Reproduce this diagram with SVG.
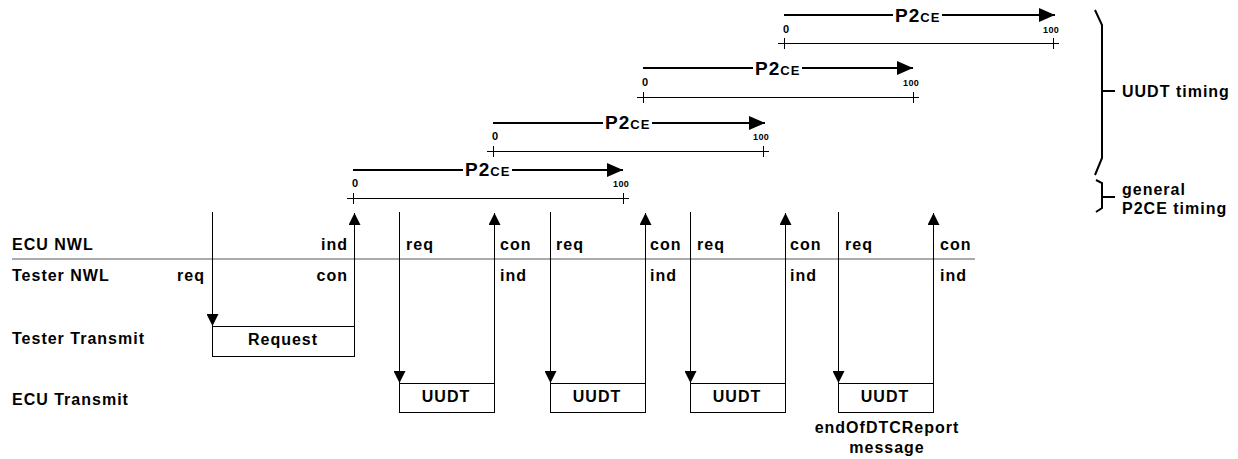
<svg xmlns="http://www.w3.org/2000/svg" width="1238" height="459" viewBox="0 0 1238 459">
  <style>
    text { font-family: "Liberation Sans", Arial, sans-serif; font-weight: bold; fill: #000; }
    .lbl { font-size: 16px; letter-spacing: 1px; }
    .p2 { font-size: 19px; letter-spacing: 1px; }
    .ce { font-size: 13px; letter-spacing: 1px; }
    .zero { font-size: 11px; }
    .hundred { font-size: 9px; letter-spacing: 0.3px; }
    .box { fill: #fff; stroke: #000; stroke-width: 1; }
    .sig { stroke: #000; stroke-width: 1; fill: none; }
    .timeline { stroke: #000; stroke-width: 2; fill: none; }
    .scale { stroke: #000; stroke-width: 1; fill: none; }
    .brace { stroke: #000; stroke-width: 2; fill: none; }
    .sep { stroke: #aaa; stroke-width: 2; }
  </style>
  <defs>
    <marker id="head" viewBox="0 0 12 12" refX="12" refY="6" markerWidth="12" markerHeight="12" markerUnits="userSpaceOnUse" orient="auto">
      <path d="M0,0 L12,6 L0,12 Z" fill="#000"/>
    </marker>
    <marker id="bighead" viewBox="0 0 16 14" refX="16" refY="7" markerWidth="16" markerHeight="14" markerUnits="userSpaceOnUse" orient="auto">
      <path d="M0,0 L16,7 L0,14 Z" fill="#000"/>
    </marker>
  </defs>

  <!-- lane labels -->
  <g id="lanes">
    <text class="lbl" x="12" y="250">ECU NWL</text>
    <text class="lbl" x="12" y="281">Tester NWL</text>
    <text class="lbl" x="12" y="344">Tester Transmit</text>
    <text class="lbl" x="12" y="405">ECU Transmit</text>
    <line class="sep" x1="12" y1="259" x2="975" y2="259"/>
  </g>

  <!-- P2CE timelines -->
  <g id="p2ce-1">
    <text x="465" y="176"><tspan class="p2">P2</tspan><tspan class="ce">CE</tspan></text>
    <text class="zero" x="355" y="187" text-anchor="middle">0</text>
    <text class="hundred" x="629" y="187" text-anchor="end">100</text>
    <path class="scale" d="M347,198.5 H629 M353.5,193 V204 M623.5,193 V204"/>
  </g>
  <g id="p2ce-2">
    <text x="605" y="129"><tspan class="p2">P2</tspan><tspan class="ce">CE</tspan></text>
    <text class="zero" x="495" y="140" text-anchor="middle">0</text>
    <text class="hundred" x="769" y="140" text-anchor="end">100</text>
    <path class="scale" d="M487,151.5 H769 M493.5,146 V157 M763.5,146 V157"/>
  </g>
  <g id="p2ce-3">
    <text x="755" y="75"><tspan class="p2">P2</tspan><tspan class="ce">CE</tspan></text>
    <text class="zero" x="645" y="86" text-anchor="middle">0</text>
    <text class="hundred" x="919" y="86" text-anchor="end">100</text>
    <path class="scale" d="M637,97.5 H919 M643.5,92 V103 M913.5,92 V103"/>
  </g>
  <g id="p2ce-4">
    <text x="895" y="22"><tspan class="p2">P2</tspan><tspan class="ce">CE</tspan></text>
    <text class="zero" x="786" y="33" text-anchor="middle">0</text>
    <text class="hundred" x="1059" y="33" text-anchor="end">100</text>
    <path class="scale" d="M778,43.5 H1059 M784.5,38 V49 M1053.5,38 V49"/>
  </g>

  <!-- transmitted frames -->
  <g id="request">
    <rect class="box" x="212.5" y="326.5" width="142" height="30"/>
    <text class="lbl" x="283" y="345" text-anchor="middle">Request</text>
  </g>
  <g id="uudt-1">
    <rect class="box" x="399.5" y="383.5" width="95" height="29"/>
    <text class="lbl" x="446" y="402" text-anchor="middle">UUDT</text>
  </g>
  <g id="uudt-2">
    <rect class="box" x="550.5" y="383.5" width="95" height="29"/>
    <text class="lbl" x="597" y="402" text-anchor="middle">UUDT</text>
  </g>
  <g id="uudt-3">
    <rect class="box" x="690.5" y="383.5" width="95" height="29"/>
    <text class="lbl" x="737" y="402" text-anchor="middle">UUDT</text>
  </g>
  <g id="uudt-4">
    <rect class="box" x="838.5" y="383.5" width="95" height="29"/>
    <text class="lbl" x="885" y="402" text-anchor="middle">UUDT</text>
    <text class="lbl" x="887" y="433" text-anchor="middle">endOfDTCReport</text>
    <text class="lbl" x="887" y="453" text-anchor="middle">message</text>
  </g>

  <!-- primitive labels -->
  <g id="primitives">
    <text class="lbl" x="177" y="281">req</text>
    <text class="lbl" x="348" y="250" text-anchor="end">ind</text>
    <text class="lbl" x="348" y="281" text-anchor="end">con</text>
    <text class="lbl" x="406" y="250">req</text>
    <text class="lbl" x="500" y="250">con</text>
    <text class="lbl" x="500" y="281">ind</text>
    <text class="lbl" x="556" y="250">req</text>
    <text class="lbl" x="650" y="250">con</text>
    <text class="lbl" x="650" y="281">ind</text>
    <text class="lbl" x="697" y="250">req</text>
    <text class="lbl" x="790" y="250">con</text>
    <text class="lbl" x="790" y="281">ind</text>
    <text class="lbl" x="845" y="250">req</text>
    <text class="lbl" x="940" y="250">con</text>
    <text class="lbl" x="940" y="281">ind</text>
  </g>

  <!-- timing braces -->
  <g id="uudt-timing">
    <path class="brace" d="M1095,10 L1102,25 V158 L1095,175 M1102,91 H1115"/>
    <text class="lbl" x="1122" y="97">UUDT timing</text>
  </g>
  <g id="general-timing">
    <path class="brace" d="M1096,180 L1102,183 V208 L1096,212 M1102,197 H1115"/>
    <text class="lbl" x="1122" y="195">general</text>
    <text class="lbl" x="1122" y="214">P2CE timing</text>
  </g>

  <!-- connectors -->
  <g id="connectors">
    <!-- P2CE duration arrows, broken around the label -->
    <line class="timeline" x1="353" y1="170" x2="463" y2="170"/>
    <line class="timeline" x1="512" y1="170" x2="623" y2="170" marker-end="url(#bighead)"/>
    <line class="timeline" x1="493" y1="123" x2="603" y2="123"/>
    <line class="timeline" x1="652" y1="123" x2="765" y2="123" marker-end="url(#bighead)"/>
    <line class="timeline" x1="643" y1="68" x2="753" y2="68"/>
    <line class="timeline" x1="802" y1="68" x2="913" y2="68" marker-end="url(#bighead)"/>
    <line class="timeline" x1="784" y1="15" x2="893" y2="15"/>
    <line class="timeline" x1="942" y1="15" x2="1055" y2="15" marker-end="url(#bighead)"/>

    <!-- requests down to the bus -->
    <line class="sig" x1="212.5" y1="212" x2="212.5" y2="326" marker-end="url(#head)"/>
    <line class="sig" x1="399.5" y1="212" x2="399.5" y2="383" marker-end="url(#head)"/>
    <line class="sig" x1="550.5" y1="212" x2="550.5" y2="383" marker-end="url(#head)"/>
    <line class="sig" x1="690.5" y1="212" x2="690.5" y2="383" marker-end="url(#head)"/>
    <line class="sig" x1="838.5" y1="212" x2="838.5" y2="383" marker-end="url(#head)"/>

    <!-- indications / confirmations back up -->
    <line class="sig" x1="354.5" y1="326" x2="354.5" y2="213" marker-end="url(#head)"/>
    <line class="sig" x1="494.5" y1="383" x2="494.5" y2="213" marker-end="url(#head)"/>
    <line class="sig" x1="645.5" y1="383" x2="645.5" y2="213" marker-end="url(#head)"/>
    <line class="sig" x1="785.5" y1="383" x2="785.5" y2="213" marker-end="url(#head)"/>
    <line class="sig" x1="933.5" y1="383" x2="933.5" y2="213" marker-end="url(#head)"/>
  </g>
</svg>
